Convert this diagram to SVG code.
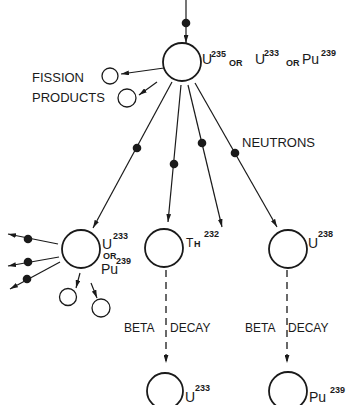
<svg xmlns="http://www.w3.org/2000/svg" width="352" height="405" viewBox="0 0 352 405">
<defs>
<marker id="ah" viewBox="0 0 10 6" refX="10" refY="3" markerWidth="8" markerHeight="5" markerUnits="userSpaceOnUse" orient="auto">
<path d="M0,0 L10,3 L0,6 Z" fill="#1a1a1a"/>
</marker>
<style>
.nuc{fill:#fff;stroke:#1a1a1a;stroke-width:1.8}
.sm{fill:#fff;stroke:#1a1a1a;stroke-width:1.3}
.ln{stroke:#1a1a1a;stroke-width:1.2;fill:none;marker-end:url(#ah)}
.ds{stroke:#1a1a1a;stroke-width:1.3;fill:none;stroke-dasharray:7 5;marker-end:url(#ah)}
.dot{fill:#1a1a1a}
text{font-family:"Liberation Sans",Arial,sans-serif;fill:#1a1a1a}
.el{font-size:14px}
.sup{font-size:9px;font-weight:bold}
.or{font-size:9px;font-weight:bold}
.lbl{font-size:13px}
.lb2{font-size:12px}
</style>
</defs>
<rect width="352" height="405" fill="#fff"/>
<g id="connectors">
<line class="ln" x1="186" y1="0" x2="186" y2="43"/>
<circle class="dot" cx="186" cy="23" r="4.3"/>
<line class="ln" x1="164" y1="68" x2="121" y2="74"/>
<line class="ln" x1="157" y1="82" x2="139" y2="95"/>
<line class="ln" x1="172" y1="82" x2="93" y2="228"/>
<circle class="dot" cx="137" cy="148" r="4.3"/>
<line class="ln" x1="181" y1="85" x2="168" y2="222"/>
<circle class="dot" cx="174" cy="164" r="4.3"/>
<line class="ln" x1="188" y1="85" x2="222" y2="227"/>
<circle class="dot" cx="202" cy="143" r="4.3"/>
<line class="ln" x1="195" y1="83" x2="277" y2="227"/>
<circle class="dot" cx="235" cy="153" r="4.3"/>
<line class="ln" x1="58" y1="244" x2="8" y2="234"/>
<circle class="dot" cx="28" cy="239" r="4.3"/>
<line class="ln" x1="59" y1="257" x2="8" y2="266"/>
<circle class="dot" cx="28" cy="262" r="4.3"/>
<line class="ln" x1="60" y1="262" x2="10" y2="289"/>
<circle class="dot" cx="27" cy="279" r="4.3"/>
<line class="ln" x1="80" y1="273" x2="76" y2="288"/>
<line class="ln" x1="91" y1="283" x2="97" y2="298"/>
<line class="ds" x1="166" y1="270" x2="166" y2="363"/>
<line class="ds" x1="287" y1="270" x2="287" y2="363"/>
</g>
<g id="fissile">
<circle class="nuc" cx="182" cy="62" r="19"/>
<text class="el" x="202" y="64">U</text>
<text class="sup" x="211" y="57">235</text>
<text class="or" x="229" y="66">OR</text>
<text class="el" x="255" y="64">U</text>
<text class="sup" x="264" y="56">233</text>
<text class="or" x="286" y="66">OR</text>
<text class="el" x="302" y="64">Pu</text>
<text class="sup" x="321" y="56">239</text>
</g>
<g id="fission-products">
<circle class="sm" cx="110" cy="76" r="8"/>
<circle class="sm" cx="127" cy="98" r="9"/>
<text class="lbl" x="32" y="82">FISSION</text>
<text class="lbl" x="32" y="102">PRODUCTS</text>
</g>
<g id="neutrons-label">
<text class="lbl" x="242" y="147">NEUTRONS</text>
</g>
<g id="u233-pu239">
<circle class="nuc" cx="81" cy="249" r="19"/>
<text class="el" x="102" y="249">U</text>
<text class="sup" x="113" y="239">233</text>
<text class="or" x="103" y="259">OR</text>
<text class="el" x="101" y="274">Pu</text>
<text class="sup" x="116" y="264">239</text>
<circle class="sm" cx="68" cy="297" r="8.5"/>
<circle class="sm" cx="101" cy="308" r="9"/>
</g>
<g id="th232">
<circle class="nuc" cx="164" cy="248" r="19"/>
<text class="lb2" x="186" y="247">T</text>
<text class="or" x="194" y="247">H</text>
<text class="sup" x="204" y="237">232</text>
</g>
<g id="u238">
<circle class="nuc" cx="288" cy="249" r="19"/>
<text class="el" x="308" y="248">U</text>
<text class="sup" x="318" y="237">238</text>
</g>
<g id="beta-labels">
<text class="lb2" x="124" y="332">BETA</text>
<text class="lb2" x="170" y="332">DECAY</text>
<text class="lb2" x="245" y="332">BETA</text>
<text class="lb2" x="288" y="332">DECAY</text>
</g>
<g id="u233">
<circle class="nuc" cx="165" cy="391" r="18"/>
<text class="el" x="185" y="402">U</text>
<text class="sup" x="195" y="391">233</text>
</g>
<g id="pu239">
<circle class="nuc" cx="288" cy="391" r="19"/>
<text class="el" x="309" y="402">Pu</text>
<text class="sup" x="330" y="393">239</text>
</g>
</svg>
